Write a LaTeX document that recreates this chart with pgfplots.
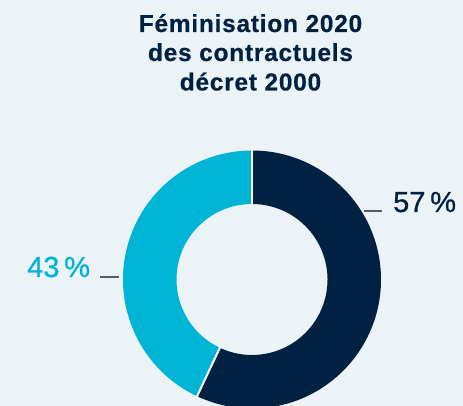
\documentclass[border=0pt]{standalone}
\usepackage{pgfplots}
\pgfplotsset{compat=1.18}
\usepackage{pgfplotstable}
\usepackage{fontspec}
\setmainfont{Liberation Sans}
\usetikzlibrary{calc}

\definecolor{navy}{HTML}{002142}
\definecolor{cyanb}{HTML}{00B4D6}
\definecolor{bg}{HTML}{EBF3F6}
\definecolor{lead}{HTML}{555B60}

% share of each part (%), clockwise from the top
\pgfplotstableread{
share colour
57 navy
43 cyanb
}\donutdata

\begin{document}
\begin{tikzpicture}
\pgfplotstablegetelem{0}{share}\of\donutdata
\pgfmathsetmacro{\split}{90-3.6*\pgfplotsretval}
\begin{axis}[
    width=463bp, height=406bp, scale only axis,
    xmin=0, xmax=463, ymin=0, ymax=406,
    hide axis, clip=true,
]
\fill[bg] (axis cs:0,0) rectangle (axis cs:463,406);

\coordinate (c) at (axis cs:252,126.5);
% navy part
\fill[navy] ($(c)+(90:129bp)$) arc[start angle=90, end angle=\split, radius=129bp]
  -- ($(c)+(\split:75.5bp)$) arc[start angle=\split, end angle=90, radius=75.5bp] -- cycle;
% cyan part
\fill[cyanb] ($(c)+(\split:129bp)$) arc[start angle=\split, end angle=-270, radius=129bp]
  -- ($(c)+(-270:75.5bp)$) arc[start angle=-270, end angle=\split, radius=75.5bp] -- cycle;
% separators
\draw[white, line width=2bp] ($(c)+(90:74bp)$) -- ($(c)+(90:131bp)$);
\draw[white, line width=2bp] ($(c)+(\split:74bp)$) -- ($(c)+(\split:131bp)$);

% title
\begin{scope}[every node/.style={anchor=base, inner sep=0pt, text=navy,
    font=\fontsize{24.5bp}{28bp}\selectfont\bfseries\addfontfeature{LetterSpace=3,FakeBold=0.5}}]
\node at (axis cs:250.5,374) {Féminisation 2020};
\node at (axis cs:250.5,345) {des contractuels};
\node at (axis cs:250.5,315.5) {décret 2000};
\end{scope}

% labels
\draw[lead, line width=1.2bp] (axis cs:364,195) -- (axis cs:382,195);
\draw[lead, line width=1.2bp] (axis cs:100,129) -- (axis cs:119,129);
\node[anchor=base west, inner sep=0pt, text=navy, font=\fontsize{29bp}{32bp}\selectfont\addfontfeature{FakeBold=0.8}]
  at (axis cs:393,194) {57\,\%};
\node[anchor=base west, inner sep=0pt, text=cyanb, font=\fontsize{29bp}{32bp}\selectfont\addfontfeature{FakeBold=0.8}]
  at (axis cs:27,129) {43\,\%};
\end{axis}
\end{tikzpicture}
\end{document}
